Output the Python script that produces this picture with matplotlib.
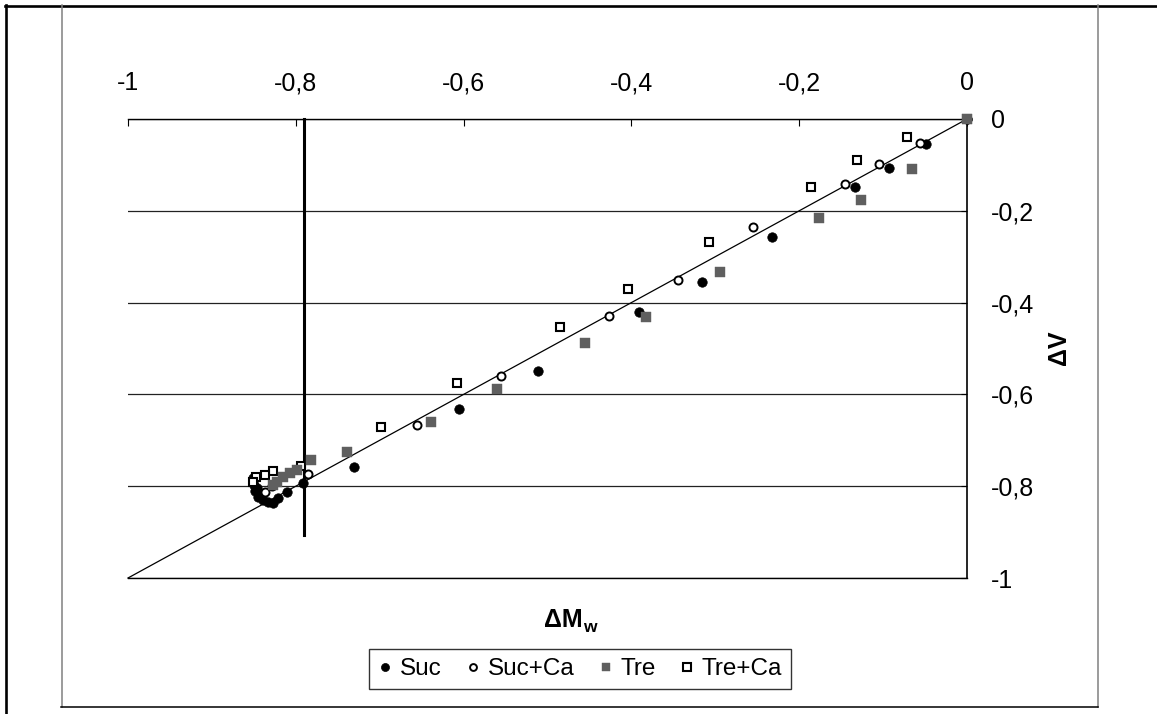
import matplotlib
matplotlib.use('Agg')
import matplotlib.pyplot as plt
from matplotlib.lines import Line2D

plt.rcParams['font.family'] = ['Liberation Sans', 'DejaVu Sans']

# ---- data ----
suc_x = [0, -0.049, -0.093, -0.133, -0.233, -0.316, -0.391, -0.511, -0.605, -0.731,
         -0.792, -0.811, -0.821, -0.827, -0.833, -0.839, -0.845, -0.849, -0.850, -0.851,
         -0.846, -0.841]
suc_y = [0, -0.055, -0.107, -0.149, -0.256, -0.355, -0.421, -0.549, -0.632, -0.758,
         -0.794, -0.812, -0.826, -0.837, -0.834, -0.830, -0.823, -0.811, -0.797, -0.783,
         -0.805, -0.820]

succa_x = [0, -0.056, -0.105, -0.145, -0.255, -0.345, -0.427, -0.555, -0.655, -0.786,
           -0.828, -0.837]
succa_y = [0, -0.053, -0.097, -0.141, -0.235, -0.350, -0.429, -0.561, -0.666, -0.774,
           -0.800, -0.812]

tre_x = [0, -0.066, -0.126, -0.176, -0.294, -0.383, -0.455, -0.560, -0.639, -0.739,
         -0.782, -0.799, -0.807, -0.815, -0.823, -0.827]
tre_y = [0, -0.110, -0.176, -0.215, -0.333, -0.431, -0.487, -0.589, -0.660, -0.726,
         -0.743, -0.765, -0.772, -0.779, -0.790, -0.797]

treca_x = [0, -0.071, -0.131, -0.186, -0.308, -0.404, -0.485, -0.608, -0.699, -0.794,
           -0.827, -0.837, -0.848, -0.851]
treca_y = [0, -0.039, -0.089, -0.149, -0.268, -0.371, -0.453, -0.575, -0.672, -0.755,
           -0.766, -0.776, -0.781, -0.790]

series_names = ['Suc', 'Suc+Ca', 'Tre', 'Tre+Ca']

x_ticks = [-1, -0.8, -0.6, -0.4, -0.2, 0]
x_tick_labels = ['-1', '-0,8', '-0,6', '-0,4', '-0,2', '0']
y_ticks = [0, -0.2, -0.4, -0.6, -0.8, -1]
y_tick_labels = ['0', '-0,2', '-0,4', '-0,6', '-0,8', '-1']

ref_line = [-1, 0]
threshold_x = -0.79
threshold_y = [0, -0.906]

# ---- figure ----
W, H = 1157, 714
fig = plt.figure(figsize=(W / 100, H / 100), dpi=100)


def fx(px):
    return px / W


def fy(py):
    return 1 - py / H


ax = fig.add_axes([fx(128), fy(578), (967 - 128) / W, (578 - 119) / H])
ax.set_xlim(-1, 0)
ax.set_ylim(-1, 0)

ax.spines['left'].set_visible(False)
ax.spines['top'].set_linewidth(1.0)
ax.spines['right'].set_linewidth(1.2)
ax.spines['bottom'].set_linewidth(1.0)

ax.xaxis.tick_top()
ax.yaxis.tick_right()
ax.set_xticks(x_ticks, x_tick_labels)
ax.set_yticks(y_ticks, y_tick_labels)
ax.tick_params(axis='x', direction='in', length=5, width=0.8, pad=17, labelsize=18)
ax.tick_params(axis='y', direction='in', length=4, width=0.8, pad=17, labelsize=18)
ax.yaxis.grid(True, color='#222222', lw=0.9)
ax.set_axisbelow(True)

# reference line y = x
ax.plot(ref_line, ref_line, color='black', lw=0.9, zorder=2, clip_on=False)
# threshold vertical line
ax.plot([threshold_x, threshold_x], threshold_y, color='black', lw=2.2, zorder=2, clip_on=False)

gray = '#5f5f5f'
h1, = ax.plot(suc_x, suc_y, 'o', ms=6.8, mfc='black', mec='black', mew=0.5,
              ls='none', zorder=4, clip_on=False, label=series_names[0])
h2, = ax.plot(succa_x, succa_y, 'o', ms=5.8, mfc='white', mec='black', mew=1.4,
              ls='none', zorder=5, clip_on=False, label=series_names[1])
h3, = ax.plot(tre_x, tre_y, 's', ms=7.0, mfc=gray, mec=gray, mew=0.3,
              ls='none', zorder=7, clip_on=False, label=series_names[2])
h4, = ax.plot(treca_x, treca_y, 's', ms=6.0, mfc='white', mec='black', mew=1.5,
              ls='none', zorder=6, clip_on=False, label=series_names[3])

leg = fig.legend(handles=[h1, h2, h3, h4], loc='center',
                 bbox_to_anchor=(fx(580), fy(669)), ncol=4, fontsize=17.5,
                 frameon=True, fancybox=False, edgecolor='black',
                 handlelength=0.6, handletextpad=0.3, columnspacing=1.0,
                 borderpad=0.35, markerscale=0.85)
leg.get_frame().set_linewidth(1.0)

# axis titles
fig.text(fx(583), fy(627), 'ΔM', fontsize=18, fontweight='bold', ha='right', va='baseline')
fig.text(fx(583), fy(632), 'w', fontsize=12.5, fontweight='bold', ha='left', va='baseline')
fig.text(fx(1059), fy(348), 'ΔV', fontsize=18, fontweight='bold', rotation=90,
         ha='center', va='center')

# page / table frame lines
fig.add_artist(Line2D([fx(6), fx(6)], [fy(5), fy(714)], color='black', lw=1.9))
fig.add_artist(Line2D([fx(5), fx(1157)], [fy(5.5), fy(5.5)], color='black', lw=1.9))
fig.add_artist(Line2D([fx(61.5), fx(61.5)], [fy(5), fy(707)], color='#808080', lw=1.1))
fig.add_artist(Line2D([fx(1097.5), fx(1097.5)], [fy(5), fy(707)], color='#808080', lw=1.1))
fig.add_artist(Line2D([fx(61), fx(1098)], [fy(707.2), fy(707.2)], color='black', lw=1.1))

fig.savefig('out.png', dpi=100)
